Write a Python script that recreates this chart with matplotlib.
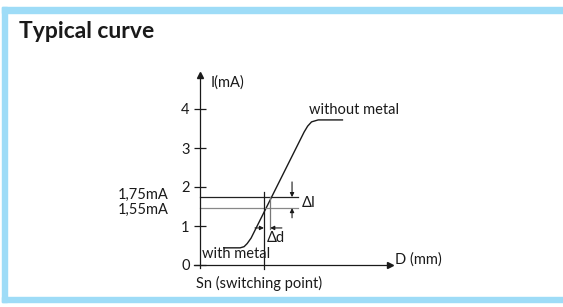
import matplotlib
matplotlib.use("Agg")
from matplotlib import pyplot as plt
from matplotlib.patches import Rectangle

# Lato is the narrowest of the installed families, closest to the original font
plt.rcParams["font.family"] = ["Lato", "DejaVu Sans"]

# data (x in arbitrary distance units, y in mA)
curve_x = [0.59, 1.03, 1.13, 1.21, 1.31, 2.67, 2.76, 2.86, 3.03, 3.67]
curve_y = [0.44, 0.44, 0.47, 0.55, 0.69, 3.41, 3.56, 3.67, 3.72, 3.72]
y_ticks = [0, 1, 2, 3, 4]
y_tick_labels = ["0", "1", "2", "3", "4"]
level_values = [1.74, 1.46]          # 1,75mA and 1,55mA lines
level_labels = ["1,75mA", "1,55mA"]
level_colors = ["#222222", "#888888"]
switch_x = 1.64                      # Sn (switching point)
switch_x2 = 1.80                     # where the curve hits the upper level
level_end = 2.51
axis_max = 4.87

fig = plt.figure(figsize=(5.63, 3.07), dpi=100)

# light blue frame around the panel
blue = "#9edcf7"
fig.patches.append(Rectangle((2 / 563, 1 - 13 / 307), 1, 6 / 307, transform=fig.transFigure, color=blue))
fig.patches.append(Rectangle((2 / 563, 1 - 302 / 307), 5 / 563, 295 / 307, transform=fig.transFigure, color=blue))
fig.patches.append(Rectangle((2 / 563, 1 - 302 / 307), 1, 5 / 307, transform=fig.transFigure, color=blue))

fig.text(19 / 563, 1 - 31 / 307, "Typical curve", fontsize=16.5, fontweight="bold",
         va="center", ha="left", color="#1a1a1a")

# axes placed so that 1 unit = 39 px and the origin sits at (200, 265) px
scale = 39
left_px, right_px, top_px, bottom_px = 100, 500, 60, 290
ax = fig.add_axes([left_px / 563, 1 - bottom_px / 307, (right_px - left_px) / 563, (bottom_px - top_px) / 307])
ax.set_xlim((left_px - 200) / scale, (right_px - 200) / scale)
ax.set_ylim((265 - bottom_px) / scale, (265 - top_px) / scale)
ax.patch.set_visible(False)

# spines through the origin
for side in ["top", "right"]:
    ax.spines[side].set_visible(False)
ax.spines["left"].set_position(("data", 0))
ax.spines["bottom"].set_position(("data", 0))
ax.spines["left"].set_bounds(-0.08, axis_max)
ax.spines["bottom"].set_bounds(-0.15, axis_max)
for side in ["left", "bottom"]:
    ax.spines[side].set_linewidth(0.9)
    ax.spines[side].set_color("#1a1a1a")
ax.plot(axis_max, 0, ">", color="#1a1a1a", markersize=5, clip_on=False)
ax.plot(0, axis_max, "^", color="#1a1a1a", markersize=5, clip_on=False)

ax.set_xticks([])
ax.set_yticks(y_ticks)
ax.set_yticklabels(y_tick_labels)
ax.tick_params(axis="y", direction="inout", length=9, width=0.9, pad=3, labelsize=10.5,
               colors="#1a1a1a")

# the typical curve
ax.plot(curve_x, curve_y, color="#1a1a1a", linewidth=1.0, solid_capstyle="butt")

# the two current levels
for value, label, color in zip(level_values, level_labels, level_colors):
    ax.plot([0, level_end], [value, value], color=color, linewidth=0.9)
ax.text(-0.8, 1.80, level_labels[0], ha="right", va="center", fontsize=10.5, color="#1a1a1a")
ax.text(-0.8, 1.42, level_labels[1], ha="right", va="center", fontsize=10.5, color="#1a1a1a")

# switching point lines
ax.plot([switch_x, switch_x], [-0.1, 1.87], color="#1a1a1a", linewidth=0.9)
ax.plot([switch_x2, switch_x2], [0.92, level_values[0]], color="#777777", linewidth=0.9)

# delta I arrows
arrow = dict(arrowstyle="-|>", color="#1a1a1a", linewidth=0.8, mutation_scale=6, shrinkA=0, shrinkB=0)
ax.annotate("", xy=(2.36, level_values[0]), xytext=(2.36, 2.13), arrowprops=arrow)
ax.annotate("", xy=(2.36, level_values[1]), xytext=(2.36, 1.21), arrowprops=arrow)
ax.text(2.62, 1.60, "ΔI", ha="left", va="center", fontsize=10.5, color="#1a1a1a")

# delta d arrows
ax.annotate("", xy=(switch_x, 0.95), xytext=(1.41, 0.95), arrowprops=arrow)
ax.annotate("", xy=(switch_x2, 0.95), xytext=(2.10, 0.95), arrowprops=arrow)
ax.text(1.71, 0.70, "Δd", ha="left", va="center", fontsize=10.5, color="#1a1a1a")

# labels
ax.text(0.06, 0.28, "with metal", ha="left", va="center", fontsize=10.5, color="#1a1a1a")
ax.text(2.79, 3.97, "without metal", ha="left", va="center", fontsize=10.5, color="#1a1a1a")
ax.text(0.28, 4.68, "I(mA)", ha="left", va="center", fontsize=10.5, color="#1a1a1a")
ax.text(5.0, 0.15, "D (mm)", ha="left", va="center", fontsize=10.5, color="#1a1a1a")
ax.text(-0.1, -0.47, "Sn (switching point)", ha="left", va="center", fontsize=10.5, color="#1a1a1a")

fig.savefig("out.png", dpi=100)
